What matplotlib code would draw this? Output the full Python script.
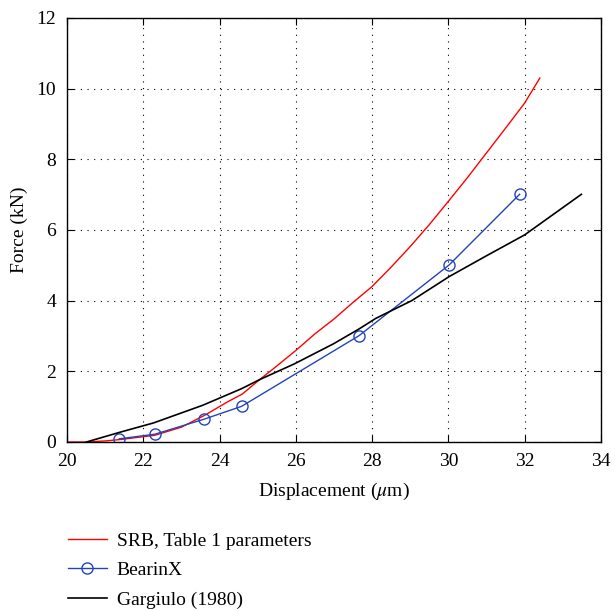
import matplotlib as mpl
mpl.use('Agg')
import matplotlib.pyplot as plt

# SRB model curve
srb_x = [20.0, 20.5, 21.0, 21.4, 22.0, 22.3, 23.0, 23.6, 24.2, 24.6, 25.0, 25.5, 26.0,
	26.5, 27.0, 27.5, 28.0, 28.5, 29.0, 29.5, 30.0, 30.5, 31.0, 31.5, 32.0, 32.4]
srb_y = [0.0, 0.0, 0.03, 0.07, 0.15, 0.19, 0.42, 0.75, 1.13, 1.36, 1.72, 2.15, 2.59,
	3.06, 3.48, 3.95, 4.40, 4.95, 5.53, 6.15, 6.81, 7.48, 8.18, 8.88, 9.59, 10.30]

# BearinX points
bx_x = [21.37, 22.30, 23.58, 24.58, 27.66, 30.02, 31.87]
bx_y = [0.09, 0.22, 0.64, 1.01, 3.01, 5.01, 7.01]

# Gargiulo (1980)
ga_x = [20.51, 21.4, 22.27, 23.56, 24.58, 25.04, 25.96, 26.99, 27.66, 28.1, 29.04, 30.02, 31.0, 32.0, 33.49]
ga_y = [0.0, 0.28, 0.54, 1.04, 1.51, 1.76, 2.21, 2.78, 3.2, 3.5, 4.0, 4.68, 5.27, 5.86, 7.01]

plt.rcParams['font.family'] = ['Liberation Serif', 'DejaVu Serif']
plt.rcParams['mathtext.fontset'] = 'stix'

fig = plt.figure(figsize=(6.15, 6.11), dpi=100)
ax = fig.add_axes([0.109, 0.2766, 0.868, 0.694])

l1, = ax.plot(srb_x, srb_y, color='#ff0000', lw=1.0)
l2, = ax.plot(bx_x, bx_y, color='#2244bb', lw=1.0, marker='o', ms=8,
	mfc='none', mec='#2244bb', mew=1.0)
l3, = ax.plot(ga_x, ga_y, color='black', lw=1.2)

ax.set_xlim(20, 34)
ax.set_ylim(0, 12)
ax.set_xticks(range(20, 35, 2))
ax.set_yticks(range(0, 13, 2))
ax.grid(True, color='black', linestyle=(0, (1, 5)), linewidth=0.8)
ax.tick_params(direction='in', top=True, right=True, labelsize=14, length=5)
ax.tick_params(axis='x', pad=8)
ax.tick_params(axis='y', pad=8)
ax.set_xlabel(r'Displacement ($\mu$m)', fontsize=14, labelpad=8)
ax.set_ylabel('Force (kN)', fontsize=14, labelpad=6)
for s in ax.spines.values():
	s.set_linewidth(1.0)

fig.legend(handles=[l1, l2, l3],
	labels=['SRB, Table 1 parameters', 'BearinX', 'Gargiulo (1980)'],
	loc='upper left', bbox_to_anchor=(0.082, 0.158), frameon=False,
	fontsize=14, handlelength=2.0, handletextpad=0.5, labelspacing=0.62)

fig.savefig('out.png', dpi=100)
